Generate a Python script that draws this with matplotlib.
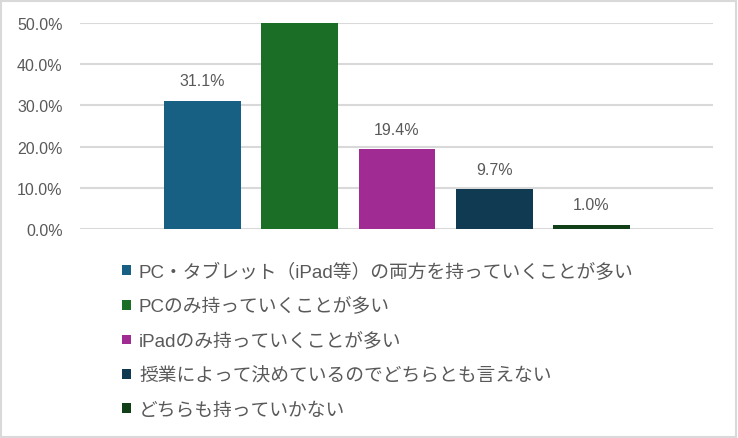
import matplotlib
matplotlib.use('Agg')
import matplotlib.pyplot as plt
from matplotlib.patches import Patch
import numpy as np

plt.rcParams['font.family'] = ['Liberation Sans', 'Noto Sans CJK JP', 'DejaVu Sans']

# data
labels = ['PC・タブレット（iPad等）の両方を持っていくことが多い',
          'PCのみ持っていくことが多い',
          'iPadのみ持っていくことが多い',
          '授業によって決めているのでどちらとも言えない',
          'どちらも持っていかない']
values = [31.1, 53.0, 19.4, 9.7, 1.0]
colors = ['#176083', '#1b6e25', '#a02b93', '#0f3a52', '#113f18']
yticks = [0, 10, 20, 30, 40, 50]

txt = '#595959'
W, H = 738, 439
fig = plt.figure(figsize=(W / 100, H / 100), dpi=100)

# outer border
fig.patches.append(plt.Rectangle((1 / W, 1 / H), 1 - 3 / W, 1 - 3 / H, transform=fig.transFigure,
                                 fill=False, edgecolor='#d9d9d9', linewidth=1.5))

ax = fig.add_axes([80 / W, (H - 230) / H, (713 - 80) / W, (230 - 24) / H])
x = np.arange(len(values))
bars = ax.bar(x, values, width=0.79, color=colors, zorder=3)

for b, v in zip(bars, values):
    ax.annotate('%.1f%%' % v, (b.get_x() + b.get_width() / 2, v), xytext=(0, 9),
                textcoords='offset points', ha='center', va='bottom',
                fontsize=11.5, color=txt, annotation_clip=True, clip_on=True)

ax.set_ylim(0, 50)
ax.set_xlim(-1.26, 5.25)
ax.set_yticks(yticks)
ax.set_yticklabels(['%.1f%%' % t for t in yticks], fontsize=11.5, color=txt)
ax.set_xticks([])
ax.tick_params(axis='y', length=0, pad=12.5)
ax.grid(axis='y', color='#d9d9d9', linewidth=1.5, zorder=0)
for s in ax.spines.values():
    s.set_visible(False)

handles = [Patch(facecolor=c) for c in colors]
fig.legend(handles, labels, loc='upper left', bbox_to_anchor=(115 / W, 1 - 256 / H),
           frameon=False, fontsize=13.5, labelcolor=txt, handlelength=0.43, handleheight=0.43,
           handletextpad=0.45, labelspacing=0.9, borderaxespad=0)

fig.savefig('out.png', dpi=100)
